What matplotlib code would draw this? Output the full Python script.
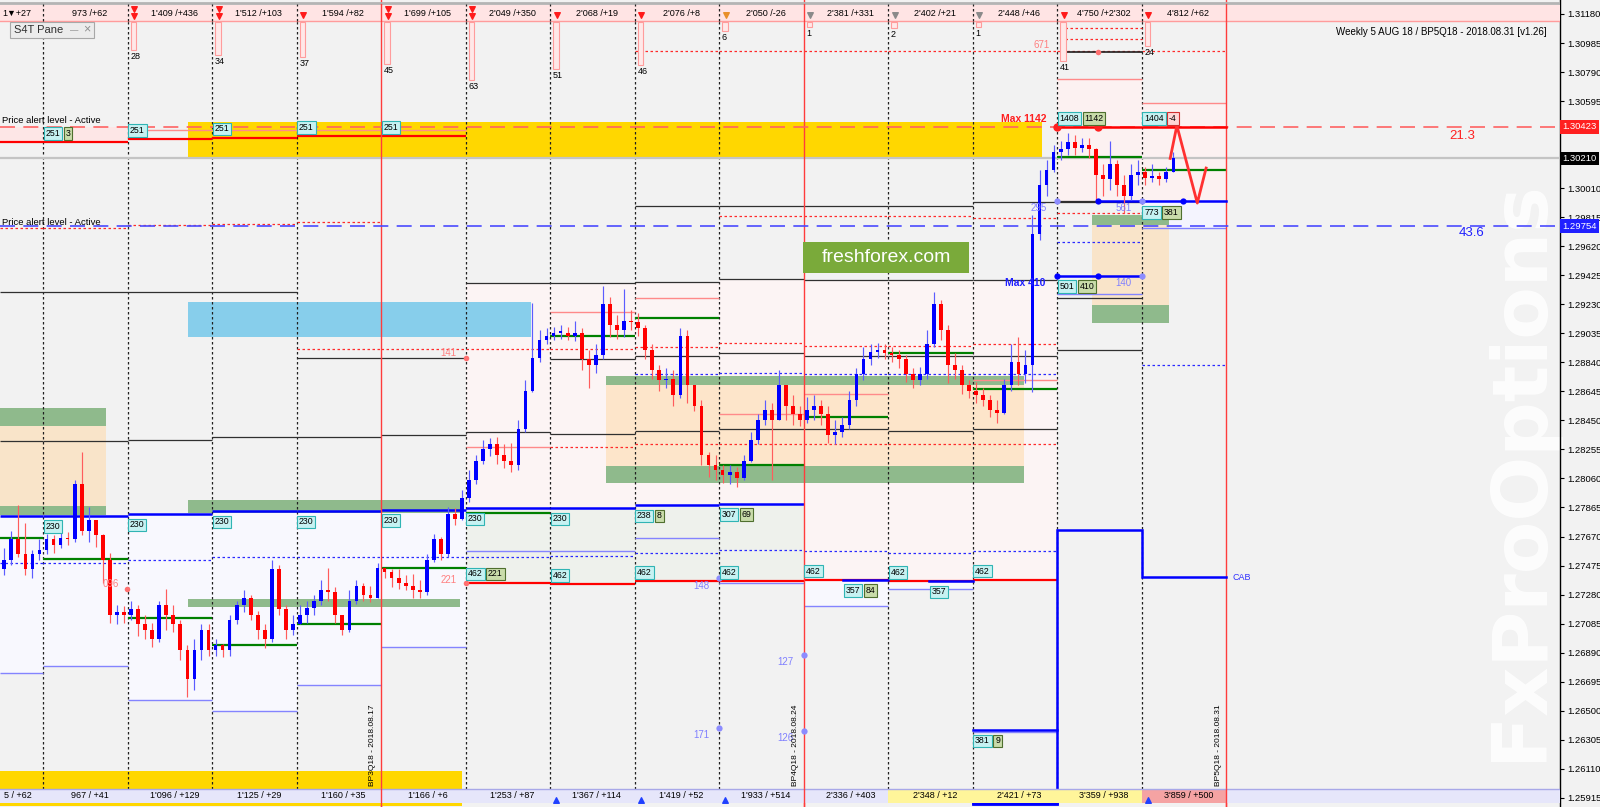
import matplotlib
matplotlib.use("Agg")
import matplotlib.pyplot as plt
from matplotlib.patches import Rectangle

plt.rcParams['font.family'] = ['Liberation Sans', 'DejaVu Sans']

N = None

# time axis in hours (one column = one trading day of 24h), prices in pips (12845 = 1.28450)
day_edges = [-12.2, 0, 24, 48, 72, 96, 120, 144, 168, 192, 216, 240, 264, 288, 312, 336]
week_edges = [96, 216, 336]
expiry_names = ['BP3Q18 - 2018.08.17', 'BP4Q18 - 2018.08.24', 'BP5Q18 - 2018.08.31']

top_labels = ["1\u25bc+27", "973 /+62", "1'409 /+436", "1'512 /+103", "1'594 /+82", "1'699 /+105",
              "2'049 /+350", "2'068 /+19", "2'076 /+8", "2'050 /-26", "2'381 /+331", "2'402 /+21",
              "2'448 /+46", "4'750 /+2'302", "4'812 /+62"]
bottom_labels = ["5 / +62", "967 / +41", "1'096 / +129", "1'125 / +29", "1'160 / +35", "1'166 / +6",
                 "1'253 / +87", "1'367 / +114", "1'419 / +52", "1'933 / +514", "2'336 / +403",
                 "2'348 / +12", "2'421 / +73", "3'359 / +938", "3'859 / +500"]
bottom_state = ['', '', '', '', '', '', '', '', '', '', '', 'hot', 'hot', 'hot', 'last']
bottom_arrows = [144, 168, 192, 312]

# per-day trade counters under the top strip (days starting at 24h ... 312h)
count_start = [24, 48, 72, 96, 120, 144, 168, 192, 216, 240, 264, 288, 312]
day_counts = [28, 34, 37, 45, 63, 51, 46, 6, 1, 2, 1, 41, 24]
top_arrows = [2, 2, 1, 2, 2, 1, 1, 1, 1, 1, 1, 1, 1]
top_signal = ['sell', 'sell', 'sell', 'sell', 'sell', 'sell', 'sell', 'warn', 'flat', 'flat', 'flat', 'sell', 'sell']

# GBPUSD, 2-hour bars (first bar centred at -11h)
open_first = 12745
closes = [12751, 12765, 12755, 12745, 12755, 12758, 12765, 12761, 12766, 12765,
          12802, 12771, 12778, 12768, 12751, 12714, 12716, 12714, 12718, 12708,
          12704, 12698, 12721, 12714, 12708, 12691, 12671, 12691, 12704, 12691,
          12694, 12691, 12711, 12721, 12726, 12714, 12704, 12698, 12745, 12718,
          12704, 12708, 12714, 12719, 12724, 12731, 12730, 12714, 12704, 12724,
          12734, 12728, 12726, 12746, 12743, 12739, 12736, 12734, 12731, 12730,
          12751, 12765, 12755, 12782, 12779, 12793, 12805, 12818, 12826, 12829,
          12822, 12818, 12815, 12839, 12865, 12887, 12899, 12902, 12904, 12904,
          12902, 12904, 12886, 12882, 12889, 12923, 12909, 12906, 12912, 12911,
          12907, 12892, 12879, 12872, 12873, 12862, 12902, 12869, 12855, 12822,
          12815, 12812, 12808, 12810, 12806, 12818, 12832, 12845, 12852, 12845,
          12869, 12855, 12849, 12845, 12852, 12855, 12849, 12835, 12837, 12842,
          12859, 12876, 12886, 12891, 12892, 12890, 12889, 12886, 12876, 12872,
          12876, 12896, 12923, 12906, 12882, 12879, 12869, 12865, 12862, 12859,
          12852, 12850, 12869, 12884, 12876, 12882, 12970, 13003, 13013, 13025,
          13027, 13032, 13028, 13030, 13027, 13010, 13007, 13017, 13003, 12996,
          13010, 13012, 13008, 13009, 13007, 13012, 13021]
highs = [12759, 12771, 12788, 12776, 12758, 12765, 12769, 12768, 12771, 12770,
         12805, 12824, 12787, 12776, 12769, 12756, 12721, 12720, 12724, 12721,
         12714, 12709, 12724, 12732, 12721, 12711, 12694, 12698, 12708, 12708,
         12698, 12695, 12714, 12724, 12731, 12728, 12717, 12708, 12751, 12748,
         12721, 12714, 12721, 12724, 12728, 12738, 12746, 12733, 12714, 12731,
         12738, 12736, 12734, 12749, 12746, 12745, 12745, 12741, 12742, 12738,
         12755, 12769, 12767, 12787, 12786, 12798, 12812, 12822, 12832, 12833,
         12834, 12829, 12830, 12845, 12872, 12924, 12906, 12907, 12908, 12909,
         12908, 12912, 12907, 12892, 12896, 12935, 12928, 12916, 12933, 12919,
         12917, 12909, 12896, 12882, 12880, 12879, 12907, 12906, 12869, 12859,
         12824, 12822, 12815, 12815, 12814, 12822, 12837, 12849, 12859, 12857,
         12879, 12869, 12862, 12855, 12861, 12862, 12859, 12855, 12845, 12847,
         12865, 12880, 12894, 12896, 12897, 12896, 12894, 12892, 12889, 12880,
         12881, 12906, 12931, 12926, 12909, 12890, 12882, 12872, 12871, 12867,
         12862, 12859, 12873, 12896, 12901, 12892, 12983, 13013, 13020, 13030,
         13033, 13038, 13037, 13035, 13035, 13028, 13017, 13033, 13020, 13010,
         13017, 13020, 13015, 13017, 13012, 13015, 13025]
lows = [12741, 12748, 12753, 12741, 12739, 12751, 12755, 12756, 12759, 12761,
        12763, 12768, 12763, 12760, 12736, 12709, 12708, 12709, 12711, 12700,
        12698, 12693, 12696, 12704, 12703, 12684, 12659, 12664, 12684, 12687,
        12687, 12686, 12687, 12708, 12716, 12711, 12698, 12692, 12696, 12714,
        12698, 12701, 12708, 12709, 12714, 12721, 12724, 12709, 12701, 12703,
        12722, 12724, 12723, 12726, 12739, 12733, 12732, 12731, 12726, 12726,
        12728, 12750, 12751, 12753, 12775, 12778, 12790, 12802, 12816, 12821,
        12816, 12813, 12810, 12812, 12837, 12864, 12884, 12896, 12899, 12900,
        12899, 12898, 12879, 12867, 12877, 12886, 12901, 12900, 12901, 12906,
        12902, 12886, 12873, 12865, 12867, 12855, 12860, 12857, 12851, 12815,
        12807, 12805, 12803, 12802, 12800, 12805, 12817, 12829, 12842, 12805,
        12845, 12845, 12842, 12841, 12843, 12845, 12842, 12830, 12829, 12834,
        12839, 12855, 12872, 12882, 12887, 12886, 12884, 12880, 12871, 12867,
        12869, 12873, 12894, 12899, 12870, 12873, 12863, 12860, 12857, 12855,
        12847, 12843, 12849, 12865, 12869, 12870, 12864, 12966, 12996, 13012,
        13020, 13023, 13023, 13025, 13021, 12991, 12996, 13000, 12996, 12984,
        12993, 13003, 13003, 13005, 13003, 13005, 13012]
current_price = 13021.0
alert_high = 13042.3
alert_low = 12975.4
alert_high_pct = '21.3'
alert_low_pct = '43.6'

# daily levels, one value per column (None = not drawn)
red_upper = [13032, 13032, 13034, 13035, 13036, 13036, N, N, N, N, N, N, N, N, N]
blue_main = [12781, 12781, 12782, 12784, 12784, 12785, 12786, 12786, 12788, 12789, N, N, N, N, N]
green_open = [12766, 12752, 12712, 12694, 12708, 12746, 12783, 12902, 12914, 12815, 12847, 12890, 12866, 13022, 13013]
black_top = [12931, 12931, 12931, 12931, 12887, 12887, 12937, 12937, 12938, 12940, 12939, 12939, 12939, 12927, N]
black_mid = [N, N, N, N, N, N, N, N, 12989, 12989, 12989, 12989, 12992, 12992, N]
black_low = [12831, 12831, 12832, 12834, 12834, 12835, 12837, 12836, 12838, 12839, 12839, 12838, 12839, N, N]
black_e = [N, N, N, N, N, N, N, 12886, 12888, 12890, 12888, 12888, 12888, 12892, N]
red_dot_a = [N, N, N, N, 12893, 12893, 12893, 12893, 12894, 12897, 12895, 12895, 12896, N, N]
red_dot_b = [N, N, N, N, N, N, N, 12827, 12829, 12829, 12829, 12829, 12829, N, N]
red_dot_c = [N, N, N, N, N, N, N, N, N, 12982, 12982, 12982, 12981, 12984, N]
red_dot_low = [12974, 12974, 12976, 12977, 12978, N, N, N, N, N, N, N, N, N, N]
red_dot_top = [N, N, N, N, N, N, N, N, 13093, 13093, 13093, 13093, 13093, 13093, 13093]
pink_line = [N, N, 13040, 13040, 13040, 13040, 12827, 12918, 12927, 12849, 12863, N, 12872, 13074, 13058]
lblue_low = [12675, 12680, 12657, 12650, 12667, 12693, 12757, 12757, 12766, 12736, 12720, 12732, 12636, 12930, 12974]
blue_dot_lo = [12749, 12749, 12751, 12753, 12753, 12753, 12753, 12754, 12756, 12758, 12757, 12756, 12757, N, N]
blue_dot_hi = [N, N, N, N, N, N, N, N, 12876, 12877, 12876, 12876, 12876, 12965, 12882]
red_462 = [N, N, N, N, N, N, 12736, 12735, 12737, 12737, 12738, 12737, 12738, N, N]
blue_357_t = [227.2, 251.6]
blue_357_end = [240, 264]
blue_357_v = [12738, 12737]

# zones: t0, t1, low, high
supply_zone = [41.2, 283.7, 13022, 13045.5]
sky_zone = [41.2, 138.6, 12901, 12924.5]
low_zone = [-12.2, 119.0, 12597.4, 12609.5]
box_t0 = [-12.2, 159.9, 297.9]
box_t1 = [17.9, 278.6, 319.8]
box_top = [(12841.3, 12853.3), (12868.8, 12874.8), (12976.3, 12983.0)]
box_mid = [(12787.5, 12841.3), (12814.4, 12868.8), (12922.5, 12976.3)]
box_bot = [(12781.5, 12787.5), (12803.0, 12814.4), (12910.4, 12922.5)]
band_t0 = [41.2, 41.2]
band_t1 = [118.4, 118.4]
band_lo = [12782.8, 12719.7]
band_hi = [12791.5, 12725.1]

# level tags
tag_t = [0, 24, 48, 72, 96, 0, 24, 48, 72, 96, 120, 144, 168, 192,
         120, 144, 168, 192, 216, 240, 264, 227.2, 251.6, 264, 288, 288, 312, 312]
tag_v = [13032, 13034, 13035, 13036, 13036, 12781, 12782, 12784, 12784, 12785, 12786, 12786, 12788, 12789,
         12736, 12735, 12737, 12737, 12738, 12737, 12738, 12738, 12737, 12637, 13042, 12942, 12992, 13042]
tag_txt = ['251'] * 5 + ['230'] * 7 + ['238', '307'] + ['462'] * 7 + ['357', '357', '381', '1408', '501', '773', '1404']
tag_extra = ['3', '', '', '', '', '', '', '', '', '', '', '', '8', '69',
             '221', '', '', '', '', '', '', '84', '', '9', '1142', '410', '381', '-4']
tag_up = [1] * 5 + [0] * 9 + [1] * 7 + [0, 0, 0, 1, 0, 0, 1]

# strike dots with their counts
red_dot_t = [23.9, 120, 120, 288, 299.6, 299.6]
red_dot_v = [12731.8, 12735.8, 12887, 13042.3, 13042.3, 13092.5]
red_dot_txt = ['096', '221', '141', '', '', '671']
red_dot_txt_v = [12735, 12738, 12890, 0, 0, 13097]
red_dot_txt_t = [21.5, 117.6, 117.3, 0, 0, 286.0]
blue_dot_t = [192, 216, 192, 216, 288, 312, 299.6, 323.8, 288, 299.6, 312]
blue_dot_v = [12739, 12687.4, 12638.4, 12636.4, 12992.4, 12992.4, 12992.4, 12992.4, 12942, 12942, 12942]
blue_dot_txt = ['148', '127', '171', '126', '295', '561', '', '', '', '', '140']
blue_dot_pale = [0, 0, 0, 0, 1, 1, 0, 0, 0, 0, 1]

# week 3 projection
max_high_t = [288, 336]
max_low_t = [288, 312]
max_low_v = 12942
target_t = [299.6, 336]
target_v = 12992.4
zigzag_t = [320.1, 322.0, 327.8, 330.3]
zigzag_v = [13021, 13043, 12991, 13014.5]
cab_t = [264, 288, 288, 312, 312, 336]
cab_v = [12588, 12588, 12771.4, 12771.4, 12739.8, 12739.8]
blue_381_t = [264, 288]
blue_381_v = 12637
top_black_t = [290.2, 312]
top_black_v = 13092.5
top_red_dots = [13108.6, 13100.9]

W, H = 1600, 807
BG = '#f2f2f2'
fig = plt.figure(figsize=(W / 100, H / 100), dpi=100, facecolor=BG)
ax = fig.add_axes([0, 0, 1560 / W, 1])
ax.set_facecolor(BG)
ax.set_xlim(-12.21, 430.8)
ax.set_ylim(12585.3, 13127.4)
ax.autoscale(False)
tx = ax.get_xaxis_transform()
ty = ax.get_yaxis_transform()


def fy(px):
    return 1 - px / H


def fx(px):
    return px / 1560


def col_rect(i, lo, hi, color, z=1.5):
    if lo is None or hi is None:
        return
    ax.add_patch(Rectangle((day_edges[i], min(lo, hi)), day_edges[i + 1] - day_edges[i], abs(hi - lo),
                           fc=color, ec='none', zorder=z))


def steps(vals, **kw):
    for i, v in enumerate(vals):
        if v is not None:
            ax.plot([day_edges[i], day_edges[i + 1]], [v, v], solid_capstyle='butt', **kw)


# watermark
ax.text(fx(1520), fy(470), 'FxProOptions', rotation=90, fontsize=55, fontweight='bold',
        family='DejaVu Sans', color='#fdfdfd', ha='center', va='center', transform=ax.transAxes, zorder=0.5)

# pale column backgrounds
for i in range(0, 6):
    col_rect(i, blue_main[i], lblue_low[i], '#f8f8fe')
for i in range(6, 13):
    col_rect(i, black_top[i], blue_main[i] if blue_main[i] else red_462[i], '#fcf4f4')
for i in range(6, 10):
    col_rect(i, blue_main[i], red_462[i], '#eef1ec')
for i in range(9, 12):
    col_rect(i, red_462[i], lblue_low[i], '#f8f8fe')
for i in (0, 1):
    col_rect(i, red_upper[i], alert_high, '#fde6e6')
col_rect(13, pink_line[13], black_mid[13], '#fcf1f1')
col_rect(14, pink_line[14], target_v, '#fcf1f1')
col_rect(14, target_v, lblue_low[14], '#f4f4fe')

# zones
t0, t1, lo, hi = supply_zone
ax.add_patch(Rectangle((t0, lo), t1 - t0, hi - lo, fc='#ffd700', ec='none', zorder=2))
t0, t1, lo, hi = sky_zone
ax.add_patch(Rectangle((t0, lo), t1 - t0, hi - lo, fc='#87ceeb', ec='none', zorder=2))
t0, t1, lo, hi = low_zone
ax.add_patch(Rectangle((t0, lo), t1 - t0, hi - lo, fc='#ffd700', ec='none', zorder=2))
for a, b, top, mid, bot in zip(box_t0, box_t1, box_top, box_mid, box_bot):
    ax.add_patch(Rectangle((a, mid[0]), b - a, mid[1] - mid[0], fc='#ffd9a8', alpha=0.55, ec='none', zorder=2))
    for lo, hi in (top, bot):
        ax.add_patch(Rectangle((a, lo), b - a, hi - lo, fc='#8fba8c', ec='none', zorder=2.1))
for a, b, lo, hi in zip(band_t0, band_t1, band_lo, band_hi):
    ax.add_patch(Rectangle((a, lo), b - a, hi - lo, fc='#8fba8c', ec='none', zorder=2.1))

# day separators and week lines
for e in day_edges[1:]:
    if e in week_edges:
        ax.axvline(e, 0, 1, color='#ff3c3c', lw=1.0, zorder=4)
    else:
        ax.axvline(e, fy(789), fy(21), color='#202020', lw=0.9, ls=(0, (2, 2)), zorder=3)

# daily level lines
steps(black_top, color='#303030', lw=0.9, zorder=3)
steps(black_mid, color='#303030', lw=0.9, zorder=3)
steps(black_low, color='#303030', lw=0.9, zorder=3)
steps(black_e, color='#303030', lw=0.9, zorder=3)
steps(pink_line, color='#ff8a8a', lw=1.0, zorder=3)
steps(lblue_low, color='#8484ff', lw=1.0, zorder=3)
for arr in (red_dot_a, red_dot_b, red_dot_c, red_dot_low, red_dot_top):
    steps(arr, color='#ff2a2a', lw=0.9, ls=(0, (2, 2)), zorder=3)
steps(blue_dot_lo, color='#2a2aff', lw=0.9, ls=(0, (2, 2)), zorder=3)
steps(blue_dot_hi, color='#2a2aff', lw=0.9, ls=(0, (2, 2)), zorder=3)
steps(red_upper, color='#ff0000', lw=1.6, zorder=3.5)
steps(blue_main, color='#0000ff', lw=1.8, zorder=3.5)
steps(green_open, color='#008000', lw=1.6, zorder=3.5)
steps(red_462, color='#ff0000', lw=1.6, zorder=3.5)
for a, b, v in zip(blue_357_t, blue_357_end, blue_357_v):
    ax.plot([a, b], [v, v], color='#0000ff', lw=1.8, zorder=3.6)

# alert levels and current price
ax.axhline(current_price, color='#c4c4c4', lw=1.6, zorder=3.2)
ax.axhline(alert_high, color='#ff6262', lw=1.2, ls=(0, (9, 5)), zorder=5)
ax.axhline(alert_low, color='#4a4aff', lw=1.2, ls=(0, (9, 5)), zorder=5)
ax.text(-11.6, alert_high + 1.2, 'Price alert level - Active', fontsize=6.8, va='bottom', zorder=8)
ax.text(-11.6, alert_low - 0.3, 'Price alert level - Active', fontsize=6.8, va='bottom', zorder=8)
ax.text(399.5, alert_high - 6, alert_high_pct, color='#ff2020', fontsize=9.5, va='center', zorder=8)
ax.text(402.0, alert_low - 4.5, alert_low_pct, color='#2020ff', fontsize=9.5, va='center', zorder=8)

# week 3 structure
ax.plot(max_high_t, [alert_high] * 2, color='#ff0000', lw=1.8, zorder=5.5)
ax.plot(max_low_t, [max_low_v] * 2, color='#0000ff', lw=1.8, zorder=5.5)
ax.plot(target_t, [target_v] * 2, color='#0000ff', lw=1.8, zorder=5.5)
ax.plot([288, target_t[0]], [target_v] * 2, color='#303030', lw=0.9, zorder=5.4)
ax.plot(blue_381_t, [blue_381_v] * 2, color='#0000ff', lw=1.8, zorder=5.5)
ax.plot(cab_t, cab_v, color='#0000ff', lw=1.8, zorder=5.5, solid_joinstyle='miter')
ax.text(337.7, cab_v[-1], 'CAB', color='#3030ff', fontsize=6.5, va='center', zorder=8)
ax.plot(top_black_t, [top_black_v] * 2, color='#202020', lw=1.2, zorder=5)
for v in top_red_dots:
    ax.plot(top_black_t, [v, v], color='#ff2a2a', lw=0.9, ls=(0, (2, 2)), zorder=3)
ax.plot(zigzag_t, zigzag_v, color='#ff3030', lw=2.0, zorder=7.5)
ax.text(285.0, alert_high + 5, 'Max 1142', color='#ff2020', fontsize=7.5, fontweight='bold',
        ha='right', va='center', zorder=8)
ax.text(284.6, max_low_v - 5, 'Max 410', color='#2020ff', fontsize=7.5, fontweight='bold',
        ha='right', va='center', zorder=8)

# candles
bar_t = [-11 + 2 * k for k in range(len(closes))]
opens = [open_first] + closes[:-1]
ups = [c >= o for o, c in zip(opens, closes)]
body_lo = [min(o, c) for o, c in zip(opens, closes)]
body_h = [max(abs(c - o), 0.8) for o, c in zip(opens, closes)]
ax.vlines(bar_t, lows, highs, colors=['#5c5cff' if u else '#ff5c5c' for u in ups], lw=0.85, zorder=6)
ax.bar(bar_t, body_h, bottom=body_lo, width=1.05, color=['#0000ff' if u else '#ff0000' for u in ups],
       lw=0, zorder=7)

# dots
for t, v, txt, tt, tv in zip(red_dot_t, red_dot_v, red_dot_txt, red_dot_txt_t, red_dot_txt_v):
    big = txt == ''
    ax.plot(t, v, 'o', color='#ff2020' if big else '#ff7070', ms=6 if big else 4, mec='none', zorder=8)
    if txt:
        ax.text(tt, tv, txt, color='#ff8080', fontsize=7, ha='right', va='center', zorder=8)
for t, v, txt, pale in zip(blue_dot_t, blue_dot_v, blue_dot_txt, blue_dot_pale):
    ax.plot(t, v, 'o', color='#8c8cff' if (pale or txt) else '#0000ff', ms=4.5, mec='none', zorder=8)
    if txt:
        ax.text(t - 2.8, v - 5, txt, color='#8080ff', fontsize=7, ha='right', va='center', zorder=8)

# level tags
for t, v, txt, extra, up in zip(tag_t, tag_v, tag_txt, tag_extra, tag_up):
    dy = 3.0 if up else -4.5
    va = 'bottom' if up else 'top'
    ax.annotate(txt, (t, v), xytext=(1.8, dy), textcoords='offset points', ha='left', va=va,
                fontsize=6.3, zorder=9,
                bbox=dict(boxstyle='square,pad=0.2', fc='#c6f2f2', ec='#30b4b4', lw=0.8))
    if extra:
        neg = extra.startswith('-')
        ax.annotate(extra, (t, v), xytext=(1.8 + 3.5 * len(txt) + 3.9, dy), textcoords='offset points',
                    ha='left', va=va, fontsize=6.3, zorder=9,
                    bbox=dict(boxstyle='square,pad=0.2', fc='#ffd6d6' if neg else '#c9dcaa',
                              ec='#d03030' if neg else '#4f6f2f', lw=0.8))

# expiry names
for e, name in zip(week_edges, expiry_names):
    ax.text(e - 2.3, fy(786), name, rotation=90, fontsize=6, ha='center', va='bottom',
            transform=tx, zorder=8)

# freshforex logo
ax.add_patch(Rectangle((fx(803), fy(273)), fx(969) - fx(803), fy(242) - fy(273), transform=ax.transAxes,
                       fc='#7aaa3a', ec='none', zorder=9))
ax.text(fx(886), fy(258), 'freshforex.com', color='white', fontsize=14, ha='center', va='center',
        transform=ax.transAxes, zorder=10)

# top strip
ax.add_patch(Rectangle((0, fy(21)), 1, fy(5) - fy(21), transform=ax.transAxes, fc='#ffe4e4', ec='none', zorder=20))
ax.plot([0, 1], [fy(21)] * 2, transform=ax.transAxes, color='#ff9c9c', lw=1, zorder=21)
ax.plot([0, 1], [fy(2.5)] * 2, transform=ax.transAxes, color='#b4b4b4', lw=2, zorder=21)
for e in day_edges[1:]:
    if e in week_edges:
        ax.axvline(e, fy(21), fy(4), color='#ff3c3c', lw=1.0, zorder=21)
    else:
        ax.axvline(e, fy(21), fy(4), color='#202020', lw=0.9, ls=(0, (2, 2)), zorder=21)
for i, lab in enumerate(top_labels):
    if i == 0:
        ax.text(fx(2), fy(13), lab, transform=ax.transAxes, ha='left', va='center', fontsize=6.5, zorder=22)
    else:
        c = (day_edges[i] + day_edges[i + 1]) / 2 + 1.3
        ax.text(c, fy(13), lab, transform=tx, ha='center', va='center', fontsize=6.5, zorder=22)
sig_col = {'sell': '#ff1a1a', 'warn': '#e8902a', 'flat': '#8a8a8a'}
for t, n, k, s in zip(count_start, day_counts, top_arrows, top_signal):
    ys = [fy(9), fy(16)] if k == 2 else [fy(15)]
    ax.scatter([t + 1.9] * len(ys), ys, marker='v', s=16, color=sig_col[s], transform=tx, zorder=23,
               clip_on=False)
    h = 4 + 0.85 * n
    ax.add_patch(Rectangle((t + 0.9, fy(22 + h)), 1.6, fy(22) - fy(22 + h), transform=tx,
                           fc='#ffe8e8', ec='#ff9c9c', lw=0.8, zorder=21))
    ax.text(t + 0.8, fy(24 + h), str(n), transform=tx, ha='left', va='top', fontsize=6.5, zorder=22)

# bottom strip
ax.add_patch(Rectangle((0, fy(803)), 1, fy(789) - fy(803), transform=ax.transAxes, fc='#e6e6fa', ec='none', zorder=20))
ax.plot([0, 1], [fy(789)] * 2, transform=ax.transAxes, color='#a8a8e8', lw=1, zorder=21)
cell_col = {'hot': '#fff59a', 'last': '#f5a3a3'}
for i, lab in enumerate(bottom_labels):
    a, b = day_edges[i], day_edges[i + 1]
    if bottom_state[i]:
        ax.add_patch(Rectangle((a, fy(803)), b - a, fy(789.5) - fy(803), transform=tx,
                               fc=cell_col[bottom_state[i]], ec='none', zorder=20.5))
    if i == 0:
        ax.text(fx(4), fy(795.5), lab, transform=ax.transAxes, ha='left', va='center', fontsize=6.5, zorder=22)
    else:
        ax.text((a + b) / 2 + 1.3, fy(795.5), lab, transform=tx, ha='center', va='center', fontsize=6.5, zorder=22)
ax.add_patch(Rectangle((day_edges[0], fy(806)), low_zone[1] - day_edges[0], fy(803) - fy(806), transform=tx,
                       fc='#ffd700', ec='none', zorder=20.5))
ax.plot(cab_t[:2], [fy(803.5)] * 2, transform=tx, color='#0000ff', lw=2, zorder=21)
ax.scatter([t + 1.7 for t in bottom_arrows], [fy(800)] * len(bottom_arrows), marker='^', s=16,
           color='#2040ff', transform=tx, zorder=23)
for e in week_edges:
    ax.axvline(e, fy(807), fy(789), color='#ff3c3c', lw=1.0, zorder=21)

# pane box and title
ax.add_patch(Rectangle((fx(10), fy(38)), fx(94) - fx(10), fy(22) - fy(38), transform=ax.transAxes,
                       fc='#ececec', ec='#a8a8a8', lw=0.8, zorder=24))
ax.text(fx(14), fy(30), 'S4T Pane', transform=ax.transAxes, fontsize=8, color='#303030', va='center', zorder=25)
ax.text(fx(70), fy(31), '\u2014', transform=ax.transAxes, fontsize=6, color='#707070', va='center', zorder=25)
ax.text(fx(83), fy(29.5), '\u00d7', transform=ax.transAxes, fontsize=9, color='#909090', va='center', zorder=25)
ax.text(fx(1547), fy(32), 'Weekly 5 AUG 18 / BP5Q18 - 2018.08.31 [v1.26]', transform=ax.transAxes,
        ha='right', va='center', fontsize=7, zorder=8)

# price scale (labels hidden under the coloured price boxes are left blank)
ticks = [12591.5 + 19.5 * i for i in range(28)]
hidden = [alert_high, current_price]
ax.yaxis.tick_right()
ax.set_yticks(ticks)
ax.set_yticklabels(['' if min(abs(v - h) for h in hidden) < 3 else '%.5f' % (v / 1e4) for v in ticks])
ax.tick_params(axis='y', direction='out', length=3, width=0.8, pad=2, labelsize=6.8, colors='black')
ax.set_xticks([])
for s in ('left', 'top', 'bottom'):
    ax.spines[s].set_visible(False)
ax.spines['right'].set_color('black')
ax.spines['right'].set_linewidth(1)
for v, fc in ((alert_high, '#ff2020'), (current_price, '#000000'), (alert_low, '#2020ff')):
    ax.text(1.0015, v, '%.5f' % (v / 1e4), transform=ty, color='white', fontsize=6.8, ha='left', va='center',
            bbox=dict(boxstyle='square,pad=0.25', fc=fc, ec='none'), clip_on=False, zorder=30)

fig.savefig('out.png', dpi=100, facecolor=BG)
